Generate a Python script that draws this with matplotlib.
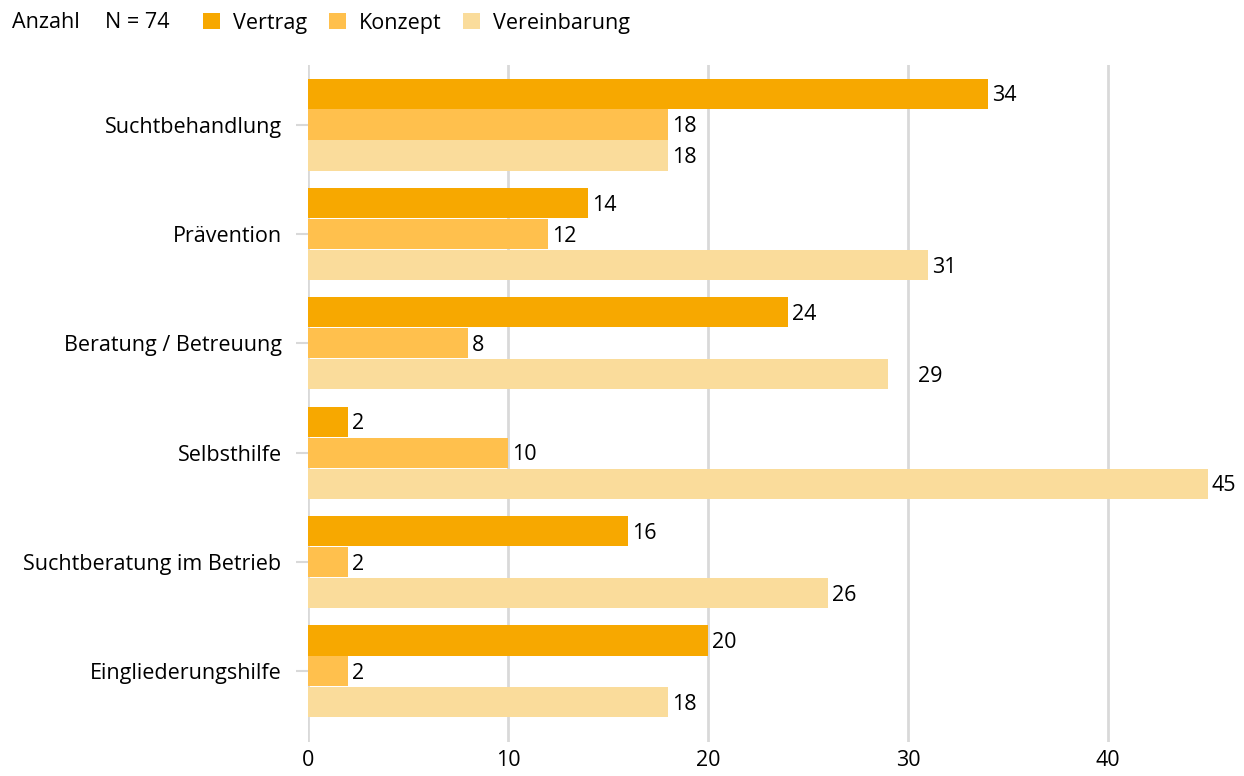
import numpy as np
import matplotlib.pyplot as plt

plt.rcParams['font.family'] = ['Open Sans', 'DejaVu Sans']

# Data
categories = ["Suchtbehandlung", "Prävention", "Beratung / Betreuung",
              "Selbsthilfe", "Suchtberatung im Betrieb", "Eingliederungshilfe"]
vertrag = [34, 14, 24, 2, 16, 20]
konzept = [18, 12, 8, 10, 2, 2]
vereinbarung = [18, 31, 29, 45, 26, 18]
series_names = ["Vertrag", "Konzept", "Vereinbarung"]
colors = ["#F7A800", "#FFC04D", "#FADC9B"]
xticks = [0, 10, 20, 30, 40]

FS = 15.5

fig = plt.figure(figsize=(12.44, 7.76), dpi=100)
ax = fig.add_axes([308/1244, 1 - 742/776, 900/1244, (742 - 65)/776])

y = np.arange(len(categories))
h = 0.283
handles = []
for i, (vals, name, c) in enumerate(zip([vertrag, konzept, vereinbarung], series_names, colors)):
    pos = y + (i - 1) * h
    b = ax.barh(pos, vals, height=h - 0.008, color=c, label=name, zorder=3)
    handles.append(b)
    for p, v in zip(pos, vals):
        dx = 0.2
        if name == "Vereinbarung" and v == 29:
            dx = 1.5  # label sits further out in the original
        ax.text(v + dx, p + 0.02, str(v), va='center', ha='left', fontsize=FS, color='black')

ax.set_xlim(0, 45)
ax.set_ylim(5.645, -0.544)
ax.set_yticks(y)
ax.set_yticklabels(categories, fontsize=FS)
ax.set_xticks(xticks)
ax.set_xticklabels([str(t) for t in xticks], fontsize=FS)
ax.tick_params(axis='y', length=9, color='#D9D9D9', width=1.5, pad=10)
ax.tick_params(axis='x', length=0, pad=6)
ax.grid(axis='x', color='#D9D9D9', linewidth=2, zorder=0)
for s in ax.spines.values():
    s.set_visible(False)

# Header / legend
fig.text(12/1244, 1 - 23/776, "Anzahl", fontsize=FS, va='center')
fig.text(105/1244, 1 - 23/776, "N = 74", fontsize=FS, va='center')
fig.legend(handles=handles, loc='center left', bbox_to_anchor=(203/1244, 1 - 23/776),
           ncol=3, frameon=False, fontsize=FS, handlelength=0.8, handleheight=0.8,
           handletextpad=0.6, columnspacing=1.0, borderpad=0, borderaxespad=0)

fig.savefig("out.png", dpi=100)
